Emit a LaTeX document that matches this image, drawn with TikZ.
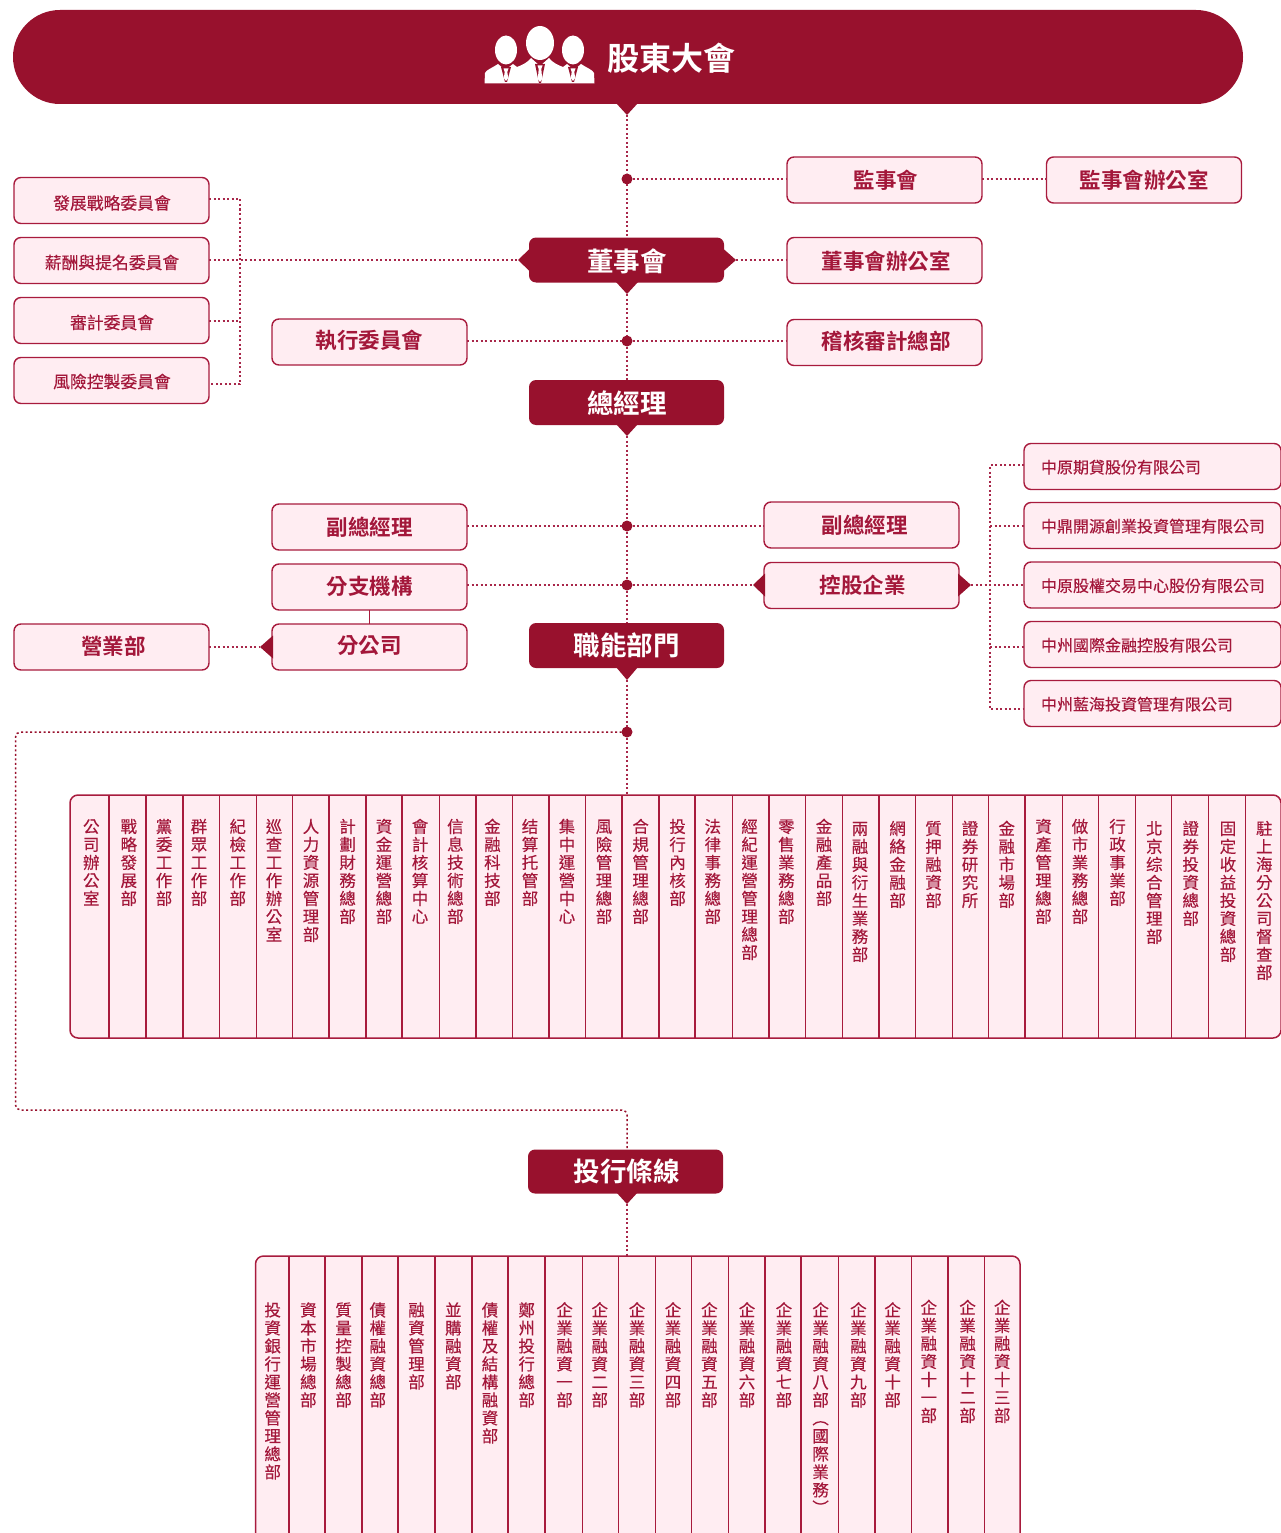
\documentclass[tikz,border=0pt]{standalone}
\usepackage{fontspec}
\setmainfont{Noto Sans CJK TC}
\newfontfamily\cjkmed[FakeBold=0.25]{Noto Sans CJK TC}
\newfontfamily\cjkbold{Noto Sans CJK TC Bold}
\definecolor{darkred}{HTML}{98112D}
\definecolor{pinkfill}{HTML}{FFEDF2}
\definecolor{edgered}{HTML}{A81B3D}
\definecolor{dotred}{HTML}{A8274A}
\definecolor{textred}{HTML}{A3173A}
\makeatletter
\def\stackchars#1{\vbox{\offinterlineskip\stack@a#1\stack@end}}
\def\stack@end{\stack@end@}
\def\stack@a#1{\ifx#1\stack@end\else\hbox to 20pt{\vrule height 14.5pt depth 3.5pt width 0pt\hss#1\hss}\expandafter\stack@a\fi}
\makeatother
\newcommand\shiftt[3]{\raisebox{#2pt}[\height][\depth]{\kern#1pt\relax #3\kern-#1pt\relax}}
\tikzset{
 x=1pt,y=-1pt,
 lightbox/.style={draw=edgered,fill=pinkfill,line width=1.4pt,rounded corners=7pt,inner sep=0pt,outer sep=0pt,text=textred,minimum width=195pt,minimum height=46pt},
 bigtext/.style={font=\cjkbold\fontsize{21.5}{24}\selectfont},
 midtext/.style={font=\cjkmed\fontsize{16.8}{20}\selectfont},
 cotext/.style={font=\cjkmed\fontsize{16}{20}\selectfont},
 darkbox/.style={fill=darkred,rounded corners=7pt,inner sep=0pt,outer sep=0pt,text=white,minimum width=195pt,minimum height=45pt,font=\cjkbold\fontsize{26.5}{30}\selectfont},
 dotline/.style={draw=dotred,line width=1.2pt,dash pattern=on 2pt off 2.5pt},
 jdot/.style={circle,fill=darkred,inner sep=0pt,minimum size=11pt,outer sep=0pt},
 colline/.style={draw=edgered,line width=1.6pt},
 tablefill/.style={draw=edgered,fill=pinkfill,line width=1.5pt},
 coltext/.style={inner sep=0pt,anchor=north,text=textred,font=\cjkmed\fontsize{16.5}{18}\selectfont},
 tip/.style={fill=darkred,draw=none}
}
\begin{document}
\begin{tikzpicture}
\useasboundingbox (0,0) rectangle (1281,1533);

% ---- shareholders' banner
\node[fill=darkred,rounded corners=47pt,minimum width=1230pt,minimum height=94pt,inner sep=0pt,outer sep=0pt] (sh) at (628,57) {};
\node[text=white,inner sep=0pt,font=\cjkbold\fontsize{32}{36}\selectfont] (shtext) at (671,58.5) {股東大會};
\coordinate (shtip) at (627,115);
\fill[tip] (616,103) -- (638,103) -- (shtip) -- cycle;
% people icon
\fill[white] (484.5,83.5) -- (485,73) .. controls (486,70) and (492,68) .. (498,64) -- (505,70) -- (513,64) -- (517,67) .. controls (522,65) and (527,63) .. (531,58) -- (540,66) -- (549,58) .. controls (553,63) and (558,65) .. (563,67) -- (567,64) -- (574,70) -- (581,64) .. controls (587,68) and (593,70) .. (594,73) -- (594.5,83.5) -- cycle;
\fill[white] (540,43) ellipse[x radius=14,y radius=17];
\fill[white] (506,50) ellipse[x radius=11,y radius=14.5];
\fill[white] (573,50) ellipse[x radius=11,y radius=14.5];
\foreach \px/\py/\pl in {506/67/15, 540/64/19, 573/67/15}{
 \fill[darkred] (\px-5,\py) -- (\px+5,\py) -- (\px+1,\py+\pl) -- (\px-1,\py+\pl) -- cycle;
 \fill[white] (\px-2.5,\py+1.5) -- (\px+2.5,\py+1.5) -- (\px+1.3,\py+5) -- (\px+2.2,\py+\pl-4) -- (\px,\py+\pl-1) -- (\px-2.2,\py+\pl-4) -- (\px-1.3,\py+5) -- cycle;
}

% ---- spine nodes
\node[darkbox] (board) at (626.5,260) {\shiftt{0.5}{-1}{董事會}};
\fill[tip] (530,248.5) -- (518,260) -- (530,271.5) -- cycle;
\fill[tip] (723,248.5) -- (736,260) -- (723,271.5) -- cycle;
\coordinate (boardL) at (518,260);
\coordinate (boardR) at (736,260);
\coordinate (boardtip) at (627,294);
\fill[tip] (616,282) -- (638,282) -- (boardtip) -- cycle;
\node[darkbox] (gm) at (626.5,402.5) {\shiftt{0.5}{-1}{總經理}};
\coordinate (gmtip) at (627,436);
\fill[tip] (616,424) -- (638,424) -- (gmtip) -- cycle;
\node[darkbox] (func) at (626.5,645.5) {職能部門};
\coordinate (functip) at (627,680);
\fill[tip] (616,667) -- (638,667) -- (functip) -- cycle;
\node[darkbox,minimum height=44pt] (ib) at (625.5,1171.5) {\shiftt{1}{0}{投行條線}};
\coordinate (ibtip) at (627,1204);
\fill[tip] (616,1192) -- (638,1192) -- (ibtip) -- cycle;

% ---- junction dots
\node[jdot] (d1) at (627,179) {};
\node[jdot] (d2) at (627,341) {};
\node[jdot] (d3) at (627,526) {};
\node[jdot] (d4) at (627,585) {};
\node[jdot] (d5) at (627,732) {};

% ---- boxes
\node[lightbox,bigtext] (sup) at (884.5,180) {\shiftt{1.5}{0}{監事會}};
\node[lightbox,bigtext] (supoff) at (1144,180) {監事會辦公室};
\node[lightbox,bigtext] (boardoff) at (884.5,260.5) {\shiftt{1.5}{-1}{董事會辦公室}};
\node[lightbox,bigtext] (audit) at (884.5,342.5) {\shiftt{1.5}{1}{稽核審計總部}};
\node[lightbox,bigtext] (exec) at (369.5,342) {\shiftt{0}{2}{執行委員會}};
\node[lightbox,midtext] (c1) at (111.5,200.5) {\shiftt{0.5}{-2.5}{發展戰略委員會}};
\node[lightbox,midtext] (c2) at (111.5,260.5) {\shiftt{0.5}{-2}{薪酬與提名委員會}};
\node[lightbox,midtext] (c3) at (111.5,320.5) {\shiftt{0.5}{-2}{審計委員會}};
\node[lightbox,midtext] (c4) at (111.5,380.5) {\shiftt{0.5}{-1}{風險控製委員會}};
\node[lightbox,bigtext] (vpl) at (369.5,527) {副總經理};
\node[lightbox,bigtext] (branch) at (369.5,587) {\shiftt{0}{1}{分支機構}};
\node[lightbox,bigtext] (subco) at (369.5,647) {\shiftt{0}{1}{分公司}};
\node[lightbox,bigtext] (sales) at (111.5,647) {\shiftt{2}{1}{營業部}};
\node[lightbox,bigtext] (vpr) at (861.5,525) {\shiftt{3}{0}{副總經理}};
\node[lightbox,bigtext] (hold) at (861.5,585.5) {\shiftt{1}{0}{控股企業}};
\coordinate (subtip) at (260,647);
\fill[tip] (273,635.5) -- (subtip) -- (273,658.5) -- cycle;
\coordinate (holdL) at (753,585);
\coordinate (holdR) at (971,585);
\fill[tip] (765,573.5) -- (holdL) -- (765,596.5) -- cycle;
\fill[tip] (958,573.5) -- (holdR) -- (958,596.5) -- cycle;
\foreach \n/\cy/\t in {f1/466.5/中原期貸股份有限公司, f2/525.5/中鼎開源創業投資管理有限公司, f3/585/中原股權交易中心股份有限公司, f4/644.5/中州國際金融控股有限公司, f5/703.5/中州藍海投資管理有限公司}{
 \node[lightbox,cotext,minimum width=257pt] (\n) at (1152.5,\cy) {\shiftt{0}{-0.7}{\hbox to 257pt{\hskip17pt\t\hss}}};
}

% ---- tables
\node[tablefill,rounded corners=8pt,minimum width=1211pt,minimum height=243pt,inner sep=0pt,outer sep=0pt] (tableA) at (675.5,916.5) {};
\foreach \lx in {109,146,183,219.5,256.5,292.5,329,366,402,439.5,476,512.5,549,585.5,622,659,695,732.5,769,805.5,842.5,879,915.5,952.5,988.5,1025,1062.5,1098.5,1135.5,1171.5,1208.5,1245.5}{
 \draw[colline] (\lx,795) -- (\lx,1038);
}
\foreach \cx/\sy/\t [count=\i] in {91.3/818/公司辦公室,128.8/818/戰略發展部,164/818/黨委工作部,199/818/群眾工作部,237.8/818/紀檢工作部,274/818/巡查工作辦公室,311/818/人力資源管理部,347.6/818/計劃財務總部,384/818/資金運營總部,420/818/會計核算中心,455.4/818/信息技術總部,492.4/818/金融科技部,530/818/结算托管部,567/818/集中運營中心,604/818/風險管理總部,640.6/818/合規管理總部,677.6/818/投行內核部,712.8/818/法律事務總部,749.6/818/經紀運營管理總部,786.4/818/零售業務總部,824/818/金融產品部,860/820/兩融與衍生業務部,897.6/820/網絡金融部,933.5/820/質押融資部,970/820/證券研究所,1006.7/820/金融市場部,1043.5/818/資產管理總部,1080/818/做市業務總部,1117.5/818/行政事業部,1154.3/820/北京综合管理部,1190.7/820/證券投資總部,1228/820/固定收益投資總部,1264.3/820/駐上海分公司督查部}{
 \node[coltext] (ca\i) at (\cx,\sy) {\expandafter\stackchars\expandafter{\t}};
}
\path[tablefill] (255.5,1533) [rounded corners=8pt] -- (255.5,1256) -- (1020,1256) [sharp corners] -- (1020,1533);
\coordinate (tableBtop) at (627,1256);
\foreach \lx in {289,325,362,398,435,472,508,545,582.5,618.5,655.5,691.5,728.5,765,801,838.5,875,911.5,948,984.5}{
 \draw[colline] (\lx,1256) -- (\lx,1533);
}
\foreach \cx/\sy/\t [count=\i] in {272.7/1301.5/投資銀行運營管理總部,308.4/1301.5/資本市場總部,343.6/1301.5/質量控製總部,377.8/1301.5/債權融資總部,416.5/1301.5/融資管理部,453.3/1301.5/並購融資部,490/1301.5/債權及結構融資部,526.7/1301.5/鄭州投行總部,564.5/1301.5/企業融資一部,599.7/1301.5/企業融資二部,637/1301.5/企業融資三部,673/1301.5/企業融資四部,709.4/1301.5/企業融資五部,747/1301.5/企業融資六部,783.9/1301.5/企業融資七部,820.6/1301.5/企業融資八部︵國際業務︶,858.4/1301.5/企業融資九部,892.6/1301.5/企業融資十部,928.8/1299/企業融資十一部,967.6/1299/企業融資十二部,1002.2/1299/企業融資十三部}{
 \node[coltext] (cb\i) at (\cx,\sy) {\expandafter\stackchars\expandafter{\t}};
}

% ---- dotted connectors
\draw[dotline] (shtip) -- (d1);
\draw[dotline] (d1) -- (board.north -| d1);
\draw[dotline] (d1) -- (sup.west |- d1);
\draw[dotline] (sup.east |- d1) -- (supoff.west |- d1);
\draw[dotline] (boardR) -- (boardoff.west |- boardR);
\draw[dotline] (boardtip) -- (d2);
\draw[dotline] (d2) -- (gm.north -| d2);
\draw[dotline] (exec.east |- d2) -- (d2);
\draw[dotline] (d2) -- (audit.west |- d2);
\draw[dotline] (gmtip) -- (d3);
\draw[dotline] (d3) -- (d4);
\draw[dotline] (d4) -- (func.north -| d4);
\draw[dotline] (vpl.east |- d3) -- (d3);
\draw[dotline] (d3) -- (vpr.west |- d3);
\draw[dotline] (branch.east |- d4) -- (d4);
\draw[dotline] (d4) -- (holdL);
\draw[dotline] (functip) -- (d5);
\draw[dotline] (d5) -- (d5 |- tableA.north);
\draw[dotline] (sales.east |- subtip) -- (subtip);
\draw[edgered,line width=1.8pt] (branch.south) -- (subco.north);
% committees bracket
\coordinate (br1) at (240,199);
\coordinate (br2) at (240,260);
\coordinate (br3) at (240,321);
\coordinate (br4) at (240,384);
\draw[dotline] (c1.east |- br1) -- (br1) -- (br4) -- (c4.east |- br4);
\draw[dotline] (c3.east |- br3) -- (br3);
\draw[dotline] (c2.east |- br2) -- (boardL);
% holdings bracket
\coordinate (fb1) at (990,465);
\coordinate (fb2) at (990,526);
\coordinate (fb3) at (990,585);
\coordinate (fb4) at (990,647);
\coordinate (fb5) at (990,709);
\draw[dotline] (f1.west |- fb1) -- (fb1) -- (fb5) -- (f5.west |- fb5);
\draw[dotline] (fb2) -- (f2.west |- fb2);
\draw[dotline] (holdR) -- (f3.west |- fb3);
\draw[dotline] (fb4) -- (f4.west |- fb4);
% long left route to investment banking
\coordinate (lr1) at (15.5,732);
\coordinate (lr2) at (15.5,1110);
\coordinate (lr3) at (627,1110);
\draw[dotline,line width=1.5pt,draw=darkred,rounded corners=5pt] (d5) -- (lr1) -- (lr2) -- (lr3) -- (ib.north -| lr3);
\draw[dotline] (ibtip) -- (tableBtop);
\end{tikzpicture}
\end{document}
